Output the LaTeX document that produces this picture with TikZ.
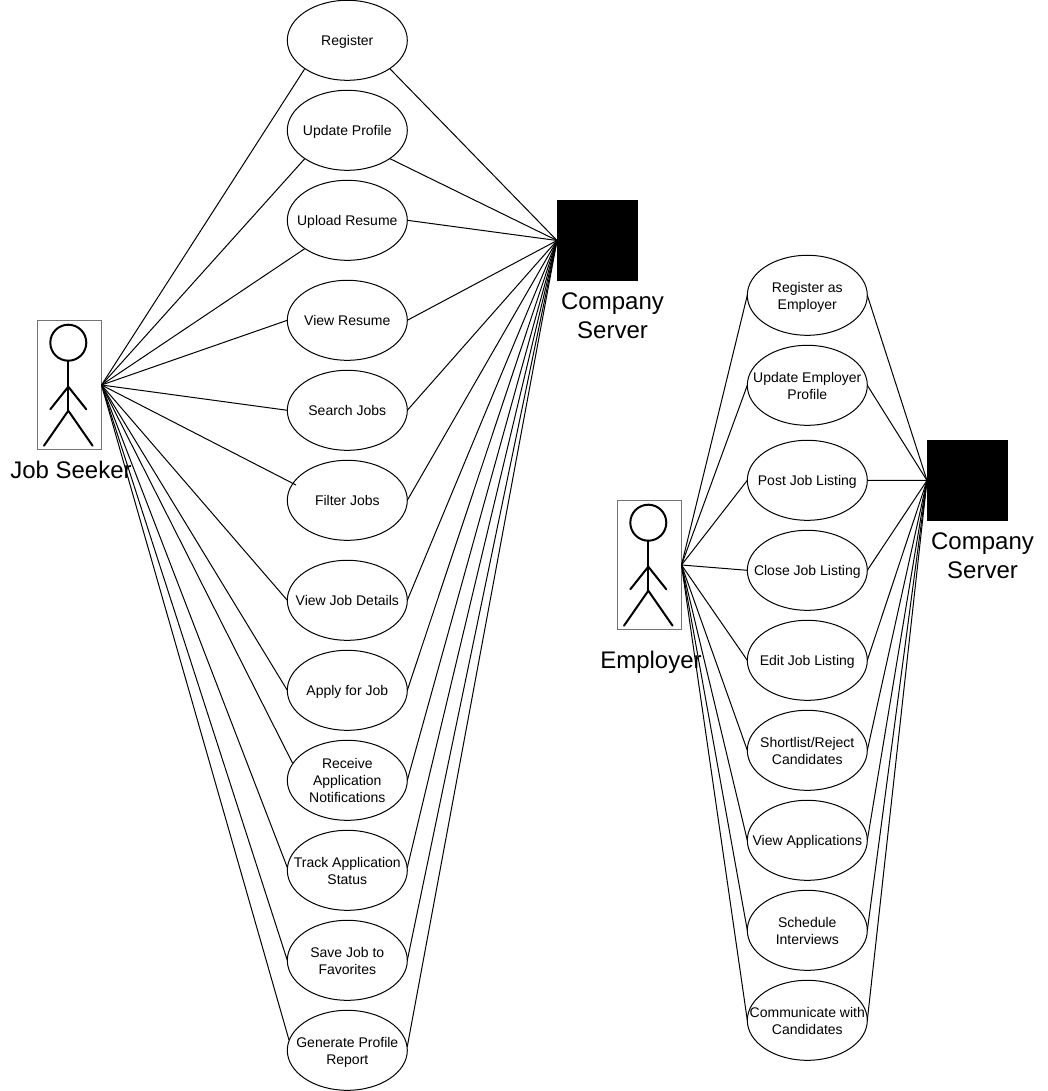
\documentclass[tikz,border=0pt]{standalone}
\usepackage{fontspec}
\setmainfont{Liberation Sans}
\usetikzlibrary{shapes.geometric}
\tikzset{
  usecase/.style={ellipse,draw=black,line width=1pt,minimum width=120pt,minimum height=80pt,inner sep=0pt,outer sep=0pt},
  uctext/.style={align=center,inner sep=0pt,font=\fontsize{14}{17}\selectfont,yshift=-1.8pt},
  bigtext/.style={align=center,inner sep=0pt,font=\fontsize{24}{29}\selectfont},
  actorbox/.style={rectangle,draw=black!55,line width=1pt,minimum width=64pt,minimum height=129pt,inner sep=0pt,outer sep=0pt},
  serverbox/.style={rectangle,fill=black,minimum width=81pt,minimum height=81pt,inner sep=0pt,outer sep=0pt},
  link/.style={draw=black,line width=1pt},
  stick/.style={draw=black,line width=2pt},
  stickman/.pic={
    \draw[stick] (0,0) circle (18pt);
    \draw[stick,line cap=round] (0,18) -- (0,68);
    \draw[stick,line cap=round] (-18,66.6) -- (0,44) -- (18,66.6);
    \draw[stick,line cap=round] (-24.3,103) -- (0,68) -- (24.3,103);
  }
}
\newcommand{\usecasenode}[3]{\node[usecase,label={[uctext]center:{\rule{0pt}{10pt}#3\rule[-3pt]{0pt}{3pt}}}] (#1) at (#2) {};}
\begin{document}
\begin{tikzpicture}[x=1pt,y=-1pt]
\useasboundingbox (0,0) rectangle (1048,1091);

% left actor
\node[actorbox] (seeker) at (69.5,385) {};
\pic at (68.3,342.7) {stickman};
\node[bigtext] (seekerlabel) at (71,469.5) {Job Seeker};

% left server
\node[serverbox] (server1) at (597.5,240.5) {};
\node[bigtext] (server1label) at (612.5,315.5) {Company\\Server};

% left use cases
\usecasenode{register}{347.3,40.3}{Register}
\usecasenode{update}{347.3,130.3}{Update Profile}
\usecasenode{upload}{347.3,220.3}{Upload Resume}
\usecasenode{viewres}{347.3,320.3}{View Resume}
\usecasenode{search}{347.3,410.3}{Search Jobs}
\usecasenode{filter}{347.3,500.3}{Filter Jobs}
\usecasenode{details}{347.3,600.3}{View Job Details}
\usecasenode{apply}{347.3,690.3}{Apply for Job}
\usecasenode{receive}{347.3,780.3}{Receive\\Application\\Notifications}
\usecasenode{track}{347.3,870.3}{Track Application\\Status}
\usecasenode{save}{347.3,960.3}{Save Job to\\Favorites}
\usecasenode{report}{347.3,1050.3}{Generate Profile\\Report}

\coordinate (filterin) at (296,485);
\coordinate (receivein) at (292.5,763);
\coordinate (trackw) at (287.5,868);
\coordinate (tracke) at (407.2,868);
\coordinate (reportw) at (289,1040);
\coordinate (reporte) at (407.2,1047);

\foreach \target in {register.south west,update.south west,upload.south west,viewres.west,search.west,filterin,details.west,apply.west,receivein,trackw,save.west,reportw}
  \draw[link] (seeker.east) -- (\target);
\foreach \target in {register.south east,update.south east,upload.east,viewres.east,search.east,filter.east,details.east,apply.east,receive.east,tracke,save.east,reporte}
  \draw[link] (\target) -- (server1.west);

% right actor
\node[actorbox] (employer) at (649.5,565) {};
\pic at (648.3,522.7) {stickman};
\node[bigtext] (employerlabel) at (651,662) {Employer};

% right server
\node[serverbox] (server2) at (967.5,480.5) {};
\node[bigtext] (server2label) at (982.5,555.5) {Company\\Server};

% right use cases
\usecasenode{regemp}{807.3,295.3}{Register as\\Employer}
\usecasenode{updemp}{807.3,385.3}{Update Employer\\Profile}
\usecasenode{post}{807.3,480.3}{Post Job Listing}
\usecasenode{close}{807.3,570.3}{Close Job Listing}
\usecasenode{edit}{807.3,660.3}{Edit Job Listing}
\usecasenode{shortlist}{807.3,750.3}{Shortlist/Reject\\Candidates}
\usecasenode{viewapp}{807.3,840.3}{View Applications}
\usecasenode{schedule}{807.3,930.3}{Schedule\\Interviews}
\usecasenode{communicate}{807.3,1020.3}{Communicate with\\Candidates}

\foreach \target in {regemp,updemp,post,close,edit,shortlist,viewapp,schedule,communicate}{
  \draw[link] (employer.east) -- (\target.west);
  \draw[link] (\target.east) -- (server2.west);
}
\end{tikzpicture}
\end{document}
